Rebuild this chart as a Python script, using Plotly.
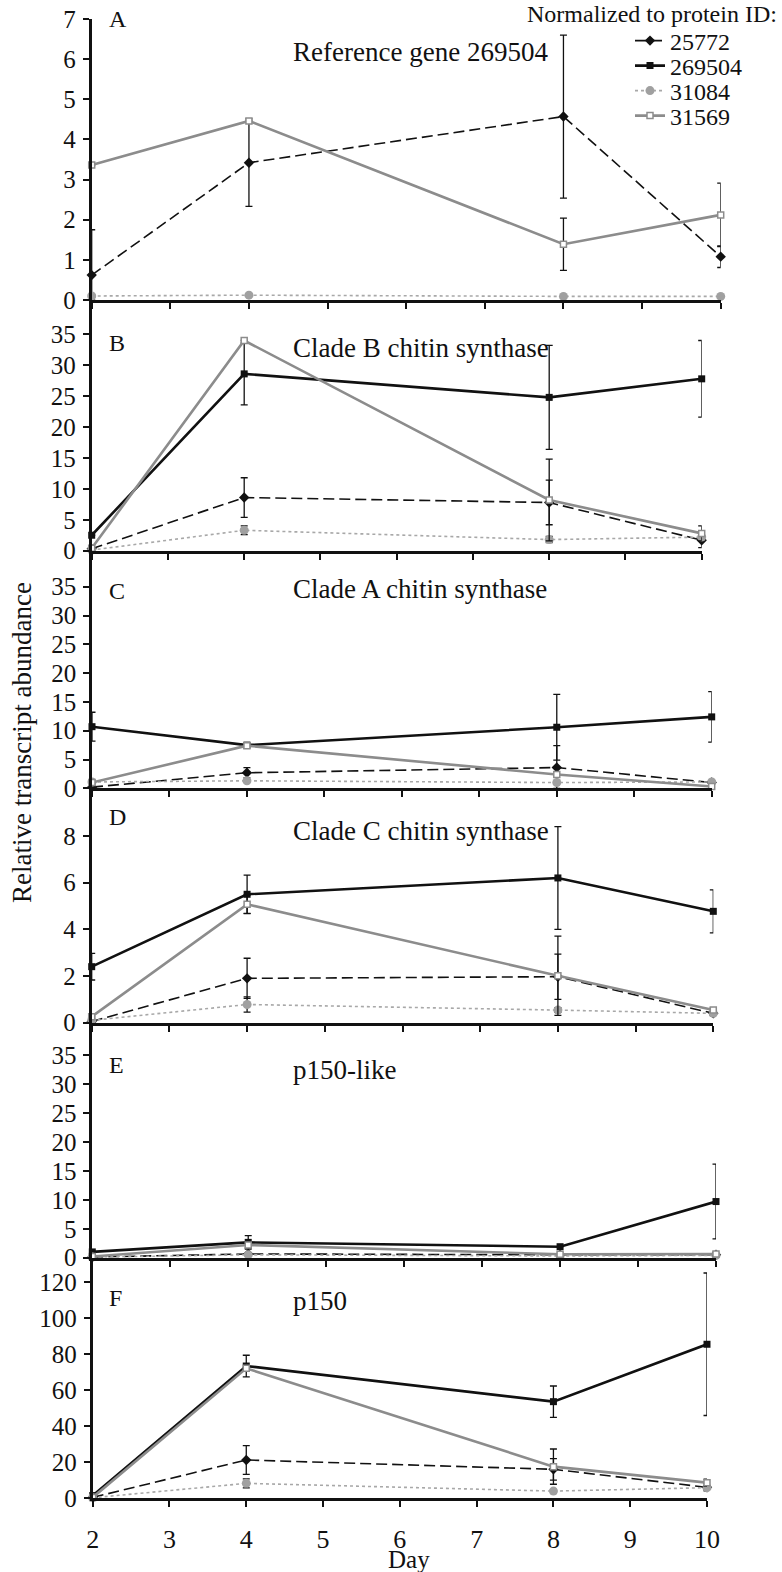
import plotly.graph_objects as go

W, H = 782, 1572
FONT = "serif"

days = [2, 4, 8, 10]
series_ids = ["25772", "269504", "31084", "31569"]
panel_letters = ["A", "B", "C", "D", "E", "F"]
panel_titles = ["Reference gene 269504", "Clade B chitin synthase", "Clade A chitin synthase",
                "Clade C chitin synthase", "p150-like", "p150"]

# Panel A: reference gene 269504 (no 269504 series drawn)
A_25772 = [0.62, 3.42, 4.57, 1.08]
A_25772_err = [1.13, 1.09, 2.03, 0.27]
A_269504 = [None, None, None, None]
A_269504_err = [0, 0, 0, 0]
A_31084 = [0.10, 0.12, 0.09, 0.09]
A_31084_err = [0, 0, 0, 0]
A_31569 = [3.36, 4.46, 1.39, 2.12]
A_31569_err = [0, 0, 0.65, 0.79]

# Panel B: clade B chitin synthase
B_25772 = [0.3, 8.6, 7.8, 1.7]
B_25772_err = [0, 3.2, 3.6, 1.2]
B_269504 = [2.5, 28.6, 24.8, 27.8]
B_269504_err = [0, 5.0, 8.4, 6.2]
B_31084 = [0.1, 3.3, 1.8, 2.2]
B_31084_err = [0, 0.7, 0.5, 0.5]
B_31569 = [0.4, 34.0, 8.2, 2.8]
B_31569_err = [0, 0, 6.6, 1.2]

# Panel C: clade A chitin synthase
C_25772 = [0.2, 2.7, 3.6, 1.0]
C_25772_err = [0, 0.9, 3.8, 0]
C_269504 = [10.7, 7.5, 10.6, 12.4]
C_269504_err = [2.5, 0, 5.7, 4.4]
C_31084 = [1.1, 1.3, 1.0, 1.1]
C_31084_err = [0, 0, 0, 0]
C_31569 = [1.0, 7.4, 2.4, 0.3]
C_31569_err = [0, 0, 0, 0.5]

# Panel D: clade C chitin synthase
D_25772 = [0.05, 1.9, 1.97, 0.4]
D_25772_err = [0, 0.86, 0.97, 0.1]
D_269504 = [2.4, 5.5, 6.2, 4.77]
D_269504_err = [0.57, 0.82, 2.2, 0.92]
D_31084 = [0.1, 0.78, 0.54, 0.4]
D_31084_err = [0, 0.33, 0.1, 0.1]
D_31569 = [0.26, 5.07, 2.01, 0.54]
D_31569_err = [0, 0.4, 1.7, 0.1]

# Panel E: p150-like
E_25772 = [0.1, 0.65, 0.5, 0.5]
E_25772_err = [0, 0, 0, 0]
E_269504 = [1.0, 2.65, 1.9, 9.7]
E_269504_err = [0, 1.15, 0, 6.45]
E_31084 = [0.1, 0.5, 0.3, 0.4]
E_31084_err = [0, 0, 0, 0]
E_31569 = [0.2, 2.2, 0.6, 0.65]
E_31569_err = [0, 0.5, 0, 0.3]

# Panel F: p150
F_25772 = [0.5, 21.3, 16.1, 6.1]
F_25772_err = [0, 8.0, 6.0, 2.0]
F_269504 = [1.5, 73.5, 53.7, 85.6]
F_269504_err = [0, 6.0, 8.7, 39.6]
F_31084 = [0.3, 8.3, 4.0, 5.9]
F_31084_err = [0, 2.5, 1.0, 1.0]
F_31569 = [0.5, 72.2, 17.6, 8.7]
F_31569_err = [0, 0, 9.8, 2.0]

# y tick values per panel
A_ticks = [0, 1, 2, 3, 4, 5, 6, 7]
B_ticks = [0, 5, 10, 15, 20, 25, 30, 35]
C_ticks = [0, 5, 10, 15, 20, 25, 30, 35]
D_ticks = [0, 2, 4, 6, 8]
E_ticks = [0, 5, 10, 15, 20, 25, 30, 35]
F_ticks = [0, 20, 40, 60, 80, 100, 120]
x_ticks = [2, 3, 4, 5, 6, 7, 8, 9, 10]

values = {
    "A": (A_25772, A_269504, A_31084, A_31569),
    "B": (B_25772, B_269504, B_31084, B_31569),
    "C": (C_25772, C_269504, C_31084, C_31569),
    "D": (D_25772, D_269504, D_31084, D_31569),
    "E": (E_25772, E_269504, E_31084, E_31569),
    "F": (F_25772, F_269504, F_31084, F_31569),
}
errors = {
    "A": (A_25772_err, A_269504_err, A_31084_err, A_31569_err),
    "B": (B_25772_err, B_269504_err, B_31084_err, B_31569_err),
    "C": (C_25772_err, C_269504_err, C_31084_err, C_31569_err),
    "D": (D_25772_err, D_269504_err, D_31084_err, D_31569_err),
    "E": (E_25772_err, E_269504_err, E_31084_err, E_31569_err),
    "F": (F_25772_err, F_269504_err, F_31084_err, F_31569_err),
}
ticks = {"A": A_ticks, "B": B_ticks, "C": C_ticks, "D": D_ticks, "E": E_ticks, "F": F_ticks}

# panel frames in pixels: x of day 2, x of day 10, top, bottom, y-axis max
frames = {
    "A": (91.7, 720.7, 19.0, 300.0, 7.0),
    "B": (91.7, 701.7, 300.0, 550.7, 40.55),
    "C": (92.0, 711.7, 550.7, 788.3, 41.25),
    "D": (91.7, 713.3, 788.3, 1022.7, 10.04),
    "E": (92.3, 716.0, 1022.7, 1257.7, 40.6),
    "F": (92.7, 707.0, 1257.7, 1498.3, 133.7),
}
# centre heights of letter and title labels, in pixels
letter_y = {"A": 19, "B": 343, "C": 591, "D": 817, "E": 1065, "F": 1298}
title_y = {"A": 52, "B": 348, "C": 589, "D": 831, "E": 1070, "F": 1301}

styles = {
    "25772": dict(line=dict(color="#111111", width=1.6, dash="11px,5px"),
                  marker=dict(symbol="diamond", size=8, color="#111111")),
    "269504": dict(line=dict(color="#111111", width=2.6),
                   marker=dict(symbol="square", size=7, color="#111111")),
    "31084": dict(line=dict(color="#a8a8a8", width=1.6, dash="3px,3px"),
                  marker=dict(symbol="circle", size=9, color="#a0a0a0")),
    "31569": dict(line=dict(color="#8c8c8c", width=2.6),
                  marker=dict(symbol="square", size=6, color="white",
                              line=dict(color="#8c8c8c", width=1.5))),
}
legend_keys = {"25772": "legend", "269504": "legend2", "31084": "legend3", "31569": "legend4"}
legend_y = {"25772": 41, "269504": 66, "31084": 91, "31569": 116}


def px_x(v):
    return v / W


def px_y(v):
    return 1 - v / H


fig = go.Figure()
layout = dict(
    width=W, height=H,
    margin=dict(l=0, r=0, t=0, b=0, autoexpand=False),
    paper_bgcolor="white", plot_bgcolor="white",
    font=dict(family=FONT, size=26, color="#111111"),
    showlegend=True,
    annotations=[],
)

for i, key in enumerate(panel_letters):
    n = i + 1
    xa = "x" if n == 1 else f"x{n}"
    ya = "y" if n == 1 else f"y{n}"
    x0, x1, top, bottom, ymax = frames[key]
    last = key == "F"

    layout["xaxis" if n == 1 else f"xaxis{n}"] = dict(
        domain=[px_x(x0), px_x(x1)], anchor=ya, range=[2, 10],
        tickvals=x_ticks, ticktext=[str(t) for t in x_ticks],
        showticklabels=last, ticks="outside", ticklen=6, tickwidth=2,
        tickcolor="#111111", showline=True, linecolor="#111111", linewidth=2.7,
        showgrid=False, zeroline=False, ticklabelstandoff=10, automargin=False,
        tickfont=dict(family=FONT, size=26, color="#111111"),
    )
    layout["yaxis" if n == 1 else f"yaxis{n}"] = dict(
        domain=[px_y(bottom), px_y(top)], anchor=xa, range=[0, ymax],
        tickvals=ticks[key], ticktext=[str(t) for t in ticks[key]],
        ticks="outside", ticklen=6, tickwidth=2, tickcolor="#111111",
        showline=True, linecolor="#111111", linewidth=2.7,
        showgrid=False, zeroline=False, ticklabelstandoff=2, automargin=False,
        tickfont=dict(family=FONT, size=25, color="#111111"),
    )

    for sid, vals, errs in zip(series_ids, values[key], errors[key]):
        plus = [e for e in errs]
        minus = [min(e, v) if v is not None else 0 for e, v in zip(errs, vals)]
        st = styles[sid]
        show = key == "B"
        fig.add_trace(go.Scatter(
            x=days, y=vals, name=sid, mode="lines+markers",
            xaxis=xa, yaxis=ya, line=st["line"], marker=st["marker"],
            error_y=dict(type="data", symmetric=False, array=plus, arrayminus=minus,
                         color="#111111", thickness=1.3, width=3.5),
            cliponaxis=False, showlegend=show, legend=legend_keys[sid],
            legendgroup=sid,
        ))

    layout["annotations"].append(dict(
        text=key, x=px_x(107), y=px_y(letter_y[key]), xref="paper", yref="paper",
        xanchor="left", yanchor="middle", showarrow=False,
        font=dict(family=FONT, size=24, color="#111111"),
    ))
    layout["annotations"].append(dict(
        text=panel_titles[i], x=px_x(291), y=px_y(title_y[key]), xref="paper", yref="paper",
        xanchor="left", yanchor="middle", showarrow=False,
        font=dict(family=FONT, size=27, color="#111111"),
    ))

# separate single-entry legends, stacked under the legend heading
for sid in series_ids:
    layout[legend_keys[sid]] = dict(
        x=px_x(630), xanchor="left", y=px_y(legend_y[sid]), yanchor="middle",
        bgcolor="rgba(0,0,0,0)", borderwidth=0,
        font=dict(family=FONT, size=24, color="#111111"),
    )

layout["annotations"] += [
    dict(text="Normalized to protein ID:", x=px_x(779), y=px_y(14), xref="paper", yref="paper",
         xanchor="right", yanchor="middle", showarrow=False,
         font=dict(family=FONT, size=24, color="#111111")),
    dict(text="Relative transcript abundance", x=px_x(22), y=px_y(743), xref="paper", yref="paper",
         xanchor="center", yanchor="middle", textangle=-90, showarrow=False,
         font=dict(family=FONT, size=27, color="#111111")),
    dict(text="Day", x=px_x(409), y=px_y(1559), xref="paper", yref="paper",
         xanchor="center", yanchor="middle", showarrow=False,
         font=dict(family=FONT, size=25, color="#111111")),
]

fig.update_layout(**layout)
fig.write_html("out.html")
